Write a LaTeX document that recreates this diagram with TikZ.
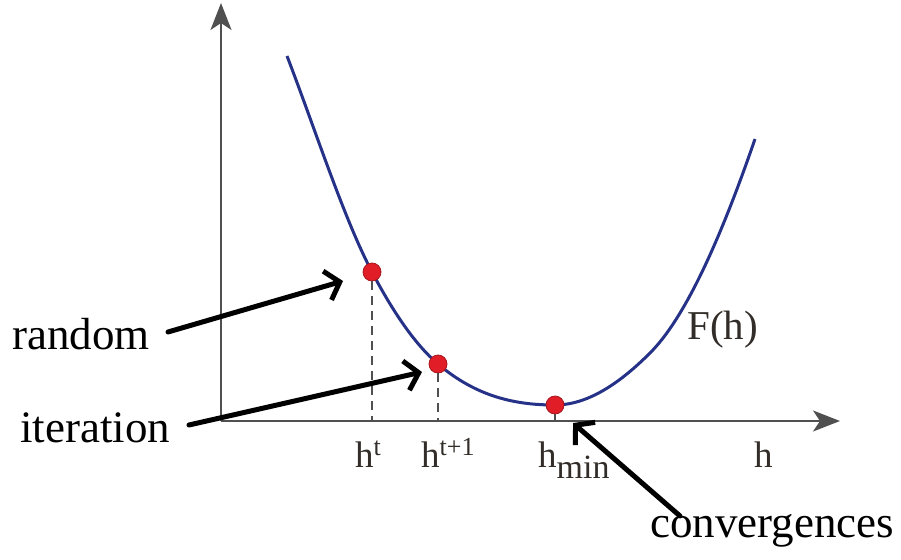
\documentclass[tikz,border=0pt]{standalone}
\usepackage{fontspec}
\setmainfont{Liberation Serif}
\usetikzlibrary{arrows.meta}
\definecolor{curveblue}{RGB}{38,50,135}
\definecolor{dotred}{RGB}{225,30,40}
\definecolor{axisgray}{RGB}{80,80,80}
\definecolor{labgray}{RGB}{50,45,40}
\tikzset{
  axis/.style={draw=axisgray, line width=2pt, -{Stealth[length=27pt,width=21pt,inset=7pt]}},
  fcurve/.style={draw=curveblue, line width=3pt},
  dot/.style={circle, fill=dotred, draw=dotred!75!black, line width=0.8pt, minimum size=18pt, inner sep=0pt},
  guide/.style={draw=axisgray, line width=1.6pt, dash pattern=on 9pt off 6pt},
  pointer/.style={draw=black, line width=5pt, line cap=round, -{Straight Barb[length=13pt,width=30pt,line width=5pt]}},
  bigtext/.style={anchor=base west, inner sep=0pt, font=\fontsize{45}{50}\selectfont, text=black},
  axtext/.style={anchor=base west, inner sep=0pt, font=\fontsize{37}{42}\selectfont, text=labgray},
}
\begin{document}
\begin{tikzpicture}[x=1pt,y=-1pt]
\useasboundingbox (0,0) rectangle (901,559);
% axes
\coordinate (O) at (221,421);
\coordinate (ytip) at (221,3);
\coordinate (xtip) at (840,421);
\draw[axis] (O) -- (ytip);
\draw[axis] (O) -- (xtip);
% curve
\draw[fcurve] (287,56) .. controls (315.3,129.6) and (343.7,218.2) .. (372,272)
  .. controls (394,313.8) and (416,345.3) .. (438,364)
  .. controls (477,397.2) and (516,405) .. (555,405)
  .. controls (586.7,405) and (618.3,384.7) .. (650,353)
  .. controls (685,318) and (720,240.5) .. (755,139);
% foot points
\coordinate (f1) at (372,421);
\coordinate (f2) at (438,421);
\coordinate (f3) at (555,421);
% dots
\node[dot] (d1) at (372,272) {};
\node[dot] (d2) at (438,364) {};
\node[dot] (d3) at (555,405) {};
\draw[guide] (d1) -- (f1);
\draw[guide] (d2) -- (f2);
\draw[axisgray, line width=1.6pt] (d3) -- (f3);
% axis labels
\node[axtext] (lht) at (355,467) {h\raisebox{12pt}{\fontsize{26}{28}\selectfont t}};
\node[axtext] (lht1) at (421,467) {h\raisebox{12pt}{\fontsize{26}{28}\selectfont t+1}};
\node[axtext] (lhmin) at (538,467) {h\raisebox{-11pt}{\fontsize{34}{36}\selectfont min}};
\node[axtext] (lh) at (754,467) {h};
\node[axtext, font=\fontsize{41}{46}\selectfont] (lF) at (687,339) {F(h)};
% text labels
\node[bigtext] (random) at (12,349) {random};
\node[bigtext] (iter) at (20,442) {iteration};
\node[bigtext] (conv) at (650,537) {convergences};
% pointers
\coordinate (t1) at (168,332);
\coordinate (h1) at (343,281);
\coordinate (t2) at (189,425);
\coordinate (h2) at (422,372);
\coordinate (t3) at (680,516);
\coordinate (h3) at (573,423);
\draw[pointer] (t1) -- (h1);
\draw[pointer] (t2) -- (h2);
\draw[pointer] (t3) -- (h3);
\end{tikzpicture}
\end{document}
